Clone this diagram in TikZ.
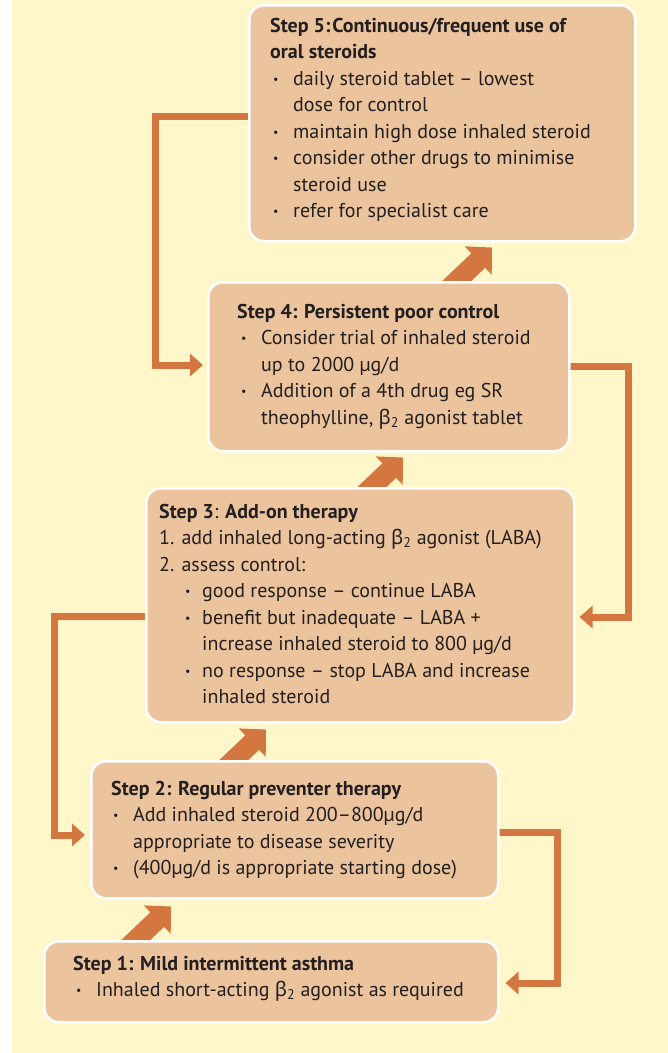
\documentclass[tikz,border=0pt]{standalone}
\usepackage{fontspec}
\setmainfont{PT Sans}
\newfontfamily\grkfont{Noto Sans}
\usetikzlibrary{arrows.meta,calc}
\definecolor{bgy}{HTML}{FFF7CA}
\definecolor{boxc}{HTML}{EBC39C}
\definecolor{arr}{HTML}{D4763F}
\definecolor{txt}{HTML}{231F20}
\newcommand\bul{\makebox[20pt][l]{\raisebox{2pt}{\fontsize{12}{12}\selectfont\textbullet}}}
\newcommand\sbul{\makebox[17pt][l]{\raisebox{2pt}{\fontsize{12}{12}\selectfont\textbullet}}}
\newcommand\bettwo{{\grkfont β}\textsubscript{2}}
\pgfdeclarelayer{bglayer}
\pgfdeclarelayer{arrlayer}
\pgfsetlayers{bglayer,arrlayer,main}
\begin{document}
\begin{tikzpicture}[x=1pt,y=-1pt,
 stepbox/.style={draw=white,line width=2.5pt,fill=boxc,rounded corners=15pt,inner sep=0pt,anchor=north west},
 steptext/.style={anchor=base west,inner sep=0pt,text=txt,font=\fontsize{20}{26.5}\selectfont},
 conn/.style={draw=arr,line width=7pt,-{Triangle[width=22pt,length=13pt]}},
 bigarr/.style={draw=arr,line width=20pt,-{Triangle[width=38pt,length=19pt]}}]
\useasboundingbox (0,0) rectangle (668,1053);
\begin{pgfonlayer}{bglayer}
\fill[bgy] (12,0) rectangle (668,1053);
\end{pgfonlayer}

\node[stepbox,minimum width=386pt,minimum height=236pt] (s5) at (248,4) {};
\node[stepbox,minimum width=361pt,minimum height=169pt] (s4) at (207,281) {};
\node[stepbox,minimum width=428pt,minimum height=234pt] (s3) at (145,487) {};
\node[stepbox,minimum width=407pt,minimum height=137pt] (s2) at (90,760) {};
\node[stepbox,minimum width=454pt,minimum height=81pt] (s1) at (43,940) {};

\begin{pgfonlayer}{arrlayer}
\draw[bigarr] ($(s1.north west)+(78,14)$) -- ($(s2.south west)+(81,7)$);
\draw[bigarr] ($(s2.north west)+(126,17)$) -- ($(s3.south west)+(121,6)$);
\draw[bigarr] ($(s3.north west)+(208,18)$) -- ($(s4.south west)+(196,5)$);
\draw[bigarr] ($(s4.north west)+(235,14)$) -- ($(s5.south west)+(244,5)$);
\draw[conn] ($(s5.north west)+(5,112)$) -- ++(-98,0) |- ($(s4.north west)+(-4,84)$);
\draw[conn] ($(s4.north east)+(-5,85)$) -- ++(63,0) |- ($(s3.north east)+(4,130)$);
\draw[conn] ($(s3.north west)+(5,129)$) -- ++(-96,0) |- ($(s2.north west)+(-5,75)$);
\draw[conn] ($(s2.north east)+(-5,72)$) -- ++(63,0) |- ($(s1.north east)+(6,43)$);
\end{pgfonlayer}

\node[steptext] (t5) at (270,32) {\begin{tabular}[t]{@{}l@{}}
\textbf{Step 5:\hspace{2pt}Continuous/frequent use of}\\
\textbf{oral steroids}\\
\hspace*{3pt}\bul daily steroid tablet – lowest\\
\hspace*{23pt}dose for control\\
\hspace*{3pt}\bul maintain high dose inhaled steroid\\
\hspace*{3pt}\bul consider other drugs to minimise\\
\hspace*{23pt}steroid use\\
\hspace*{3pt}\bul refer for specialist care
\end{tabular}};

\node[steptext] (t4) at (237,318) {\begin{tabular}[t]{@{}l@{}}
\textbf{Step 4: Persistent poor control}\\
\hspace*{4pt}\bul Consider trial of inhaled steroid\\
\hspace*{24pt}up to 2000 µg/d\\
\hspace*{4pt}\bul Addition of a 4th drug eg SR\\
\hspace*{24pt}theophylline, \bettwo{} agonist tablet
\end{tabular}};

\node[steptext] (t3) at (159,518) {\begin{tabular}[t]{@{}l@{}}
\textbf{Step 3}:\textbf{ Add-on therapy}\\
1. add inhaled long-acting \bettwo{} agonist (LABA)\\
2. assess control:\\
\hspace*{26pt}\sbul good response – continue LABA\\
\hspace*{26pt}\sbul benefit but inadequate – LABA +\\
\hspace*{43pt}increase inhaled steroid to 800 µg/d\\
\hspace*{26pt}\sbul no response – stop LABA and increase\\
\hspace*{43pt}inhaled steroid
\end{tabular}};

\node[steptext] (t2) at (111,795) {\begin{tabular}[t]{@{}l@{}}
\textbf{Step 2: Regular preventer therapy}\\
\hspace*{2pt}\bul Add inhaled steroid 200–800µg/d\\
\hspace*{22pt}appropriate to disease severity\\
\hspace*{2pt}\bul (400µg/d is appropriate starting dose)
\end{tabular}};

\node[steptext] (t1) at (73,970) {\begin{tabular}[t]{@{}l@{}}
\textbf{Step 1: Mild intermittent asthma}\\
\hspace*{3pt}\bul Inhaled short-acting \bettwo{} agonist as required
\end{tabular}};
\end{tikzpicture}
\end{document}
